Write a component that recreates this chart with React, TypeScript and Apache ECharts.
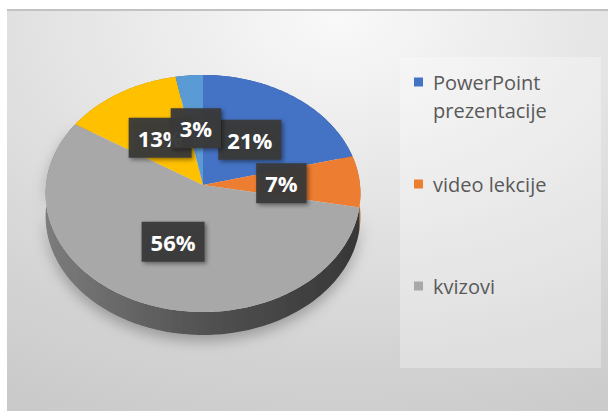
import React, { useEffect, useRef } from "react";
import * as echarts from "echarts";

const categories = ["PowerPoint prezentacije", "video lekcije", "kvizovi", "ostalo", "drugo"];
const values = [21, 7, 56, 13, 3];
const topColors = ["#4472C4", "#ED7D31", "#A8A8A8", "#FFC000", "#5B9BD5"];
const sideColors = ["#2f5597", "#a9561f", "#5a5a5a", "#b38600", "#3f6f99"];
const legendLabels = ["PowerPoint\nprezentacije", "video lekcije", "kvizovi"];

const CX = 203;
const CY = 185;
const KX = 157;
const KY = 117.9;
const PC = 0.0717;
const DEPTH = 23;

function proj(theta: number, r: number): number[] {
  const a = Math.sin(theta) * r;
  const b = Math.cos(theta) * r;
  const s = 1 + PC * b;
  return [CX + (KX * a) / s, CY - (KY * b) / s];
}

function arc(t0: number, t1: number, r: number): number[][] {
  const n = Math.max(2, Math.ceil((t1 - t0) / (Math.PI / 180)));
  const pts: number[][] = [];
  for (let k = 0; k <= n; k++) {
    pts.push(proj(t0 + ((t1 - t0) * k) / n, r));
  }
  return pts;
}

const total = values.reduce((s, v) => s + v, 0);
const cum: number[] = [0];
values.forEach((v, i) => cum.push(cum[i] + v));

function angles(i: number): number[] {
  return [(cum[i] / total) * Math.PI * 2, (cum[i + 1] / total) * Math.PI * 2];
}

export default function App() {
  const ref = useRef<HTMLDivElement>(null);
  useEffect(() => {
    document.body.style.margin = "0";
    if (!ref.current) return;
    const chart = echarts.init(ref.current, undefined, { renderer: "svg" });
    const data = values.map((v, i) => ({ value: v, name: categories[i] }));

    const legendGraphics: any[] = [];
    const legendY = [82, 184, 286];
    legendLabels.forEach((lab, i) => {
      legendGraphics.push({
        type: "rect",
        shape: { x: 414, y: legendY[i] - 4.5, width: 9, height: 9 },
        style: { fill: topColors[i] },
        z: 10,
      });
      legendGraphics.push({
        type: "text",
        x: 433,
        y: legendY[i] - 14,
        style: {
          text: lab,
          fill: "#595959",
          font: "20px 'Open Sans'",
          lineHeight: 28,
          verticalAlign: "top",
          align: "left",
        },
        z: 10,
      });
    });

    chart.setOption({
      animation: false,
      graphic: [
        {
          type: "rect",
          shape: { x: 7, y: 9, width: 601, height: 402 },
          style: {
            fill: new echarts.graphic.RadialGradient(0.55, 0.02, 1.2, [
              { offset: 0, color: "#f9f9f9" },
              { offset: 0.3, color: "#e9e9e9" },
              { offset: 0.7, color: "#d3d3d3" },
              { offset: 1, color: "#c6c6c6" },
            ]),
          },
          z: -10,
        },
        {
          type: "rect",
          shape: { x: 7, y: 9, width: 601, height: 2 },
          style: { fill: "#c2c2c2" },
          z: -9,
        },
        {
          type: "rect",
          shape: { x: 400, y: 57, width: 201, height: 311 },
          style: { fill: "rgba(255,255,255,0.3)" },
          z: -8,
        },
        ...legendGraphics,
      ],
      series: [
        {
          type: "custom",
          coordinateSystem: "none",
          silent: true,
          data,
          renderItem: (params: any, api: any) => {
            const i = params.dataIndex;
            api.value(0);
            const [t0, t1] = angles(i);
            const top = arc(t0, t1, 1);
            const bottom = top.map((p) => [p[0], p[1] + DEPTH]).reverse();
            const fill =
              i === 2
                ? new echarts.graphic.LinearGradient(0, 0, 1, 0, [
                    { offset: 0, color: "#7c7c7c" },
                    { offset: 0.5, color: "#525252" },
                    { offset: 1, color: "#373737" },
                  ])
                : sideColors[i];
            return {
              type: "polygon",
              shape: { points: top.concat(bottom) },
              style:
                i === 2
                  ? {
                      fill,
                      shadowBlur: 14,
                      shadowColor: "rgba(0,0,0,0.28)",
                      shadowOffsetY: 6,
                    }
                  : { fill },
            };
          },
        },
        {
          type: "custom",
          coordinateSystem: "none",
          silent: true,
          data,
          renderItem: (params: any, api: any) => {
            const i = params.dataIndex;
            api.value(0);
            const [t0, t1] = angles(i);
            const pts = [[CX, CY]].concat(arc(t0, t1, 1));
            return {
              type: "polygon",
              shape: { points: pts },
              style: { fill: topColors[i] },
            };
          },
        },
        {
          type: "custom",
          coordinateSystem: "none",
          silent: true,
          data,
          renderItem: (params: any, api: any) => {
            const i = params.dataIndex;
            const v = api.value(0);
            const [t0, t1] = angles(i);
            const p = proj((t0 + t1) / 2, 0.5);
            return {
              type: "text",
              x: p[0],
              y: p[1],
              style: {
                text: Math.round((v / total) * 100) + "%",
                fill: "#ffffff",
                font: "bold 22px 'Open Sans'",
                align: "center",
                verticalAlign: "middle",
                backgroundColor: "rgba(56,56,56,0.95)",
                padding: [9, 9, 9, 9],
                shadowBlur: 4,
                shadowColor: "rgba(0,0,0,0.45)",
                shadowOffsetX: 2,
                shadowOffsetY: 2,
              },
            };
          },
        },
      ],
    });
    return () => chart.dispose();
  }, []);
  return <div ref={ref} style={{ width: 608, height: 411 }} />;
}
